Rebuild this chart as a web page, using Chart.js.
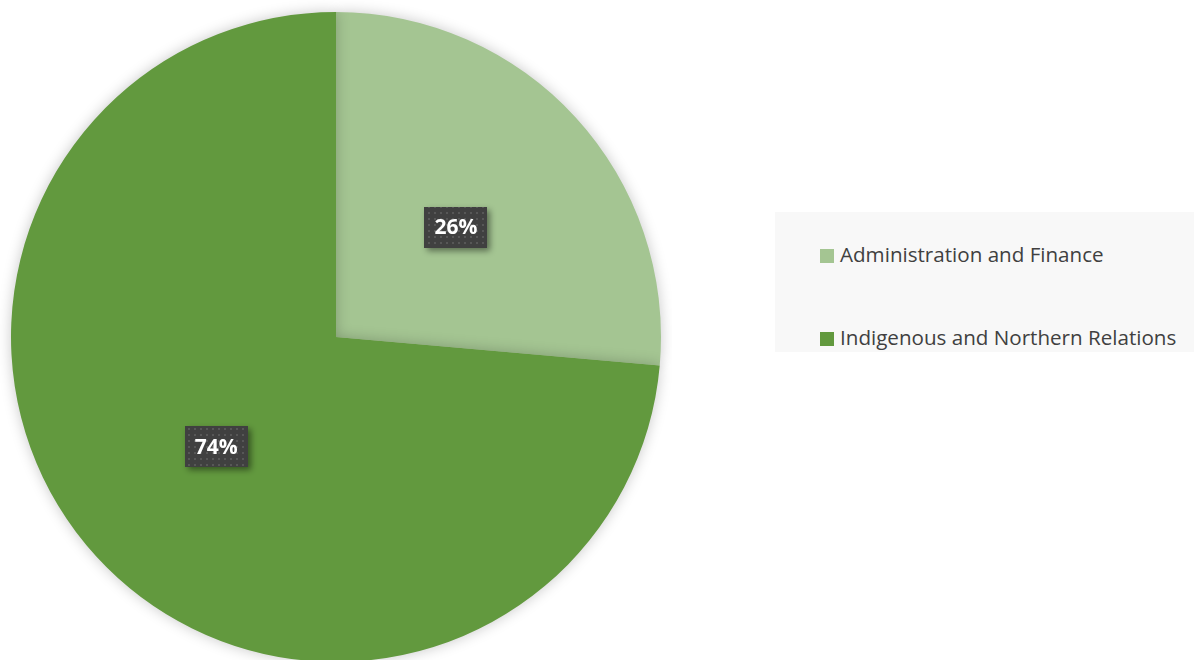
<!DOCTYPE html>
<html>
<head>
<meta charset="utf-8">
<script src="https://cdn.jsdelivr.net/npm/chart.js@4"></script>
<style>
  html, body { margin: 0; padding: 0; background: #ffffff; }
  body { width: 1194px; height: 660px; position: relative; overflow: hidden; font-family: "Open Sans", "Noto Sans", sans-serif; }
  #pie-wrap { position: absolute; left: 0; top: 0; width: 672px; height: 674px; }
  #legend-box { position: absolute; left: 775px; top: 212px; width: 419px; height: 140px; background: #f8f8f8; }
  .lg-row { position: absolute; left: 45px; font-size: 20.6px; color: #404040; white-space: nowrap; line-height: 24px; }
  .lg-swatch { display: inline-block; width: 14px; height: 14px; margin-right: 6px; vertical-align: -1px; }
</style>
</head>
<body>
<div id="pie-wrap"><canvas id="chart-pie"></canvas></div>
<div id="legend-box"></div>
<script>
// data
const categories = ['Administration and Finance', 'Indigenous and Northern Relations'];
const shares = [26.4, 73.6];
const sliceLabels = ['26%', '74%'];
const sliceColors = ['#a4c592', '#62993e'];

// legend rows (html)
const legendBox = document.getElementById('legend-box');
const rowTops = [30, 113];
categories.forEach(function (name, i) {
  const row = document.createElement('div');
  row.className = 'lg-row';
  row.style.top = rowTops[i] + 'px';
  row.innerHTML = '<span class="lg-swatch" style="background:' + sliceColors[i] + '"></span>' + name;
  legendBox.appendChild(row);
});

// dotted fill for the label boxes
function dotPattern(ctx) {
  const c = document.createElement('canvas');
  c.width = 6; c.height = 6;
  const p = c.getContext('2d');
  p.fillStyle = '#404040';
  p.fillRect(0, 0, 6, 6);
  p.fillStyle = '#575757';
  p.fillRect(2, 2, 2, 2);
  return ctx.createPattern(c, 'repeat');
}

const pieShadow = {
  id: 'pieShadow',
  beforeDatasetsDraw(chart) {
    const ctx = chart.ctx;
    ctx.save();
    ctx.shadowColor = 'rgba(0,0,0,0.22)';
    ctx.shadowBlur = 14;
    ctx.shadowOffsetX = 0;
    ctx.shadowOffsetY = 0;
  },
  afterDatasetsDraw(chart) {
    chart.ctx.restore();
  }
};

const boxLabels = {
  id: 'boxLabels',
  afterDraw(chart) {
    const ctx = chart.ctx;
    const meta = chart.getDatasetMeta(0);
    const fill = dotPattern(ctx);
    meta.data.forEach(function (arc, i) {
      const pos = arc.tooltipPosition();
      const w = 63, h = 41;
      const x = Math.round(pos.x - w / 2), y = Math.round(pos.y - h / 2);
      ctx.save();
      ctx.shadowColor = 'rgba(0,0,0,0.45)';
      ctx.shadowBlur = 6;
      ctx.shadowOffsetX = 3;
      ctx.shadowOffsetY = 3;
      ctx.fillStyle = fill;
      ctx.fillRect(x, y, w, h);
      ctx.restore();
      ctx.save();
      ctx.fillStyle = '#ffffff';
      ctx.font = 'bold 21px "Open Sans", sans-serif';
      ctx.textAlign = 'center';
      ctx.textBaseline = 'middle';
      ctx.fillText(sliceLabels[i], pos.x, pos.y + 1);
      ctx.restore();
    });
  }
};

new Chart(document.getElementById('chart-pie').getContext('2d'), {
  type: 'pie',
  data: {
    labels: categories,
    datasets: [{
      data: shares,
      backgroundColor: sliceColors,
      borderWidth: 0
    }]
  },
  options: {
    responsive: true,
    maintainAspectRatio: false,
    animation: false,
    layout: { padding: { left: 11, right: 11, top: 12, bottom: 12 } },
    plugins: {
      legend: { display: false },
      tooltip: { enabled: false }
    }
  },
  plugins: [pieShadow, boxLabels]
});
</script>
</body>
</html>
